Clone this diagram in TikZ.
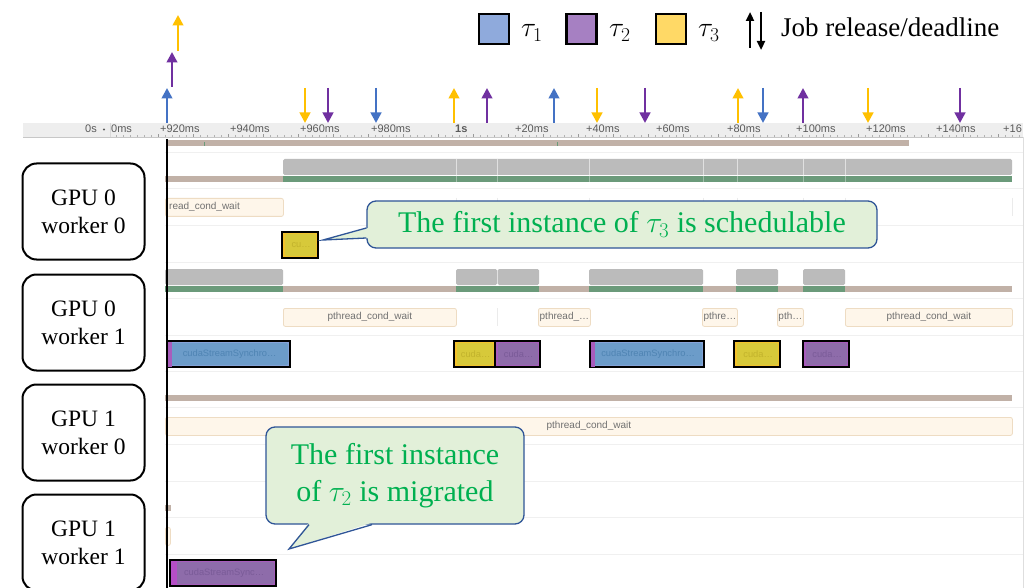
\RequirePackage{fix-cm}
\documentclass[tikz,border=0pt]{standalone}
\usepackage{fontspec}
\setmainfont{Liberation Serif}
\newfontfamily\trfont{Liberation Sans}
\usetikzlibrary{arrows.meta}

\definecolor{taublue}{HTML}{4472C4}
\definecolor{taupurple}{HTML}{7030A0}
\definecolor{tauyellow}{HTML}{FFC000}
\definecolor{legblue}{HTML}{8FAADC}
\definecolor{legpurple}{HTML}{A680C2}
\definecolor{legyellow}{HTML}{FFD966}
\definecolor{calloutfill}{HTML}{E2F0D9}
\definecolor{calloutedge}{HTML}{2F5597}
\definecolor{callouttext}{HTML}{00B050}
\definecolor{cpugray}{HTML}{BBBBBB}
\definecolor{rungreen}{HTML}{6B9A7A}
\definecolor{idlebrown}{HTML}{C1B1A7}
\definecolor{waitfill}{HTML}{FEF6EA}
\definecolor{waitedge}{HTML}{EEDCC3}
\definecolor{waittext}{HTML}{707070}
\definecolor{rowsepcol}{HTML}{F0F0F0}
\definecolor{rulerfill}{HTML}{EEEEEE}
\definecolor{rulertext}{HTML}{5A5A5A}
\definecolor{bluebody}{HTML}{6C9CC9}
\definecolor{blueedge}{HTML}{86A3DA}
\definecolor{bluetext}{HTML}{4F84B3}
\definecolor{yellowbody}{HTML}{D7C93A}
\definecolor{yellowedge}{HTML}{F4C22C}
\definecolor{yellowtext}{HTML}{C2B32C}
\definecolor{purplebody}{HTML}{8E6CAA}
\definecolor{purpleedge}{HTML}{A85CBC}
\definecolor{purpletext}{HTML}{7A5B98}

\tikzset{
  release/.style={line width=2.6pt, -{Triangle[width=10.5pt,length=10.5pt]}},
  legarrow/.style={black, line width=2.2pt, -{Triangle[width=8pt,length=9pt]}},
  legbox/.style={draw=black, line width=2.6pt, minimum size=30pt, inner sep=0pt},
  worker/.style={draw=black, line width=2pt, rounded corners=14pt,
    minimum width=122pt, minimum height=96pt, align=center, inner sep=0pt,
    font=\fontsize{23.5}{28}\selectfont},
  callout/.style={draw=calloutedge, line width=1.3pt, fill=calloutfill,
    rounded corners=9pt, text=callouttext, inner sep=0pt, align=center},
  rlabel/.style={font=\trfont\fontsize{11}{11}\selectfont, text=rulertext, inner sep=0pt, anchor=base west},
  rowsep/.style={draw=rowsepcol, line width=0.8pt},
  waitbox/.style={draw=waitedge, fill=waitfill, rounded corners=2pt, line width=0.8pt,
    inner sep=0pt, minimum height=18pt, anchor=north west},
  waitlabel/.style={font=\trfont\fontsize{10}{10}\selectfont, text=waittext, inner sep=0pt},
  cudabox/.style={draw=black, line width=2.2pt, minimum height=26pt, inner sep=0pt, anchor=north west},
  cudalabel/.style={font=\trfont\fontsize{9.3}{9.3}\selectfont, inner sep=0pt},
  faint/.style={draw=black!8, line width=0.6pt},
}

% pthread_cond_wait slice: name, x, top, width, label
\newcommand\waitslice[5]{%
  \node[waitbox, minimum width=#4pt] (#1) at (#2,#3) {};
  \node[waitlabel] (#1-l) at (#1.center) {#5};}

% CUDA call slice: name, x, top, width, kind (blue/yellow/purple), label
\newcommand\cudaslice[6]{%
  \node[cudabox, fill=#5edge, minimum width=#4pt] (#1) at (#2,#3) {};
  \fill[#5body, rounded corners=1.5pt] ([xshift=4pt,yshift=-3pt]#1.north west)
    rectangle ([xshift=-3pt,yshift=3pt]#1.south east);
  \node[cudalabel, text=#5text] (#1-l) at ([xshift=1pt]#1.center) {#6};}

% purple sliver at the start of a synchronisation slice
\newcommand\sliver[1]{%
  \fill[purpleedge] ([xshift=1.5pt,yshift=-1.5pt]#1.north west)
    rectangle ([xshift=6pt,yshift=1.5pt]#1.south west);}

\begin{document}
\begin{tikzpicture}[x=1pt, y=-1pt]
\clip (0,0) rectangle (1036,588);
\fill[white] (0,0) rectangle (1036,588);

% ---------- legend ----------
\node[legbox, fill=legblue] (lb1) at (494,29) {};
\node[anchor=base west, inner sep=0pt, font=\fontsize{28}{28}\selectfont] (lt1) at (521,37) {$\tau_1$};
\node[legbox, fill=legpurple] (lb2) at (581.5,29) {};
\node[anchor=base west, inner sep=0pt, font=\fontsize{28}{28}\selectfont] (lt2) at (609,37) {$\tau_2$};
\node[legbox, fill=legyellow] (lb3) at (671,29) {};
\node[anchor=base west, inner sep=0pt, font=\fontsize{28}{28}\selectfont] (lt3) at (698,37) {$\tau_3$};
\draw[legarrow] (750,48) -- (750,12);
\draw[legarrow] (761,12) -- (761,50);
\node[anchor=base west, inner sep=0pt, font=\fontsize{27}{27}\selectfont] (legtext) at (781,37) {Job release/deadline};

% ---------- time ruler ----------
\begin{scope}
  \clip (23,118) rectangle (1023,140);
  \fill[rulerfill] (23,123) rectangle (1023,137);
  \draw[black!22, line width=0.8pt] (23,137) -- (1023,137);
  \draw[black!15, line width=0.6pt] (110,123) -- (110,137);
  \foreach \xx in {116,123,...,1020} \draw[black!30, line width=0.5pt] (\xx,137) -- (\xx,135.5);
  \foreach \xx in {158,193,...,1020} \draw[black!40, line width=0.5pt] (\xx,137) -- (\xx,134);
  \node[rlabel] (r0s) at (85,133) {0s};
  \fill[rulertext] (104,129.5) circle (1.2);
  \node[rlabel] (r0) at (111,133) {0ms};
  \node[rlabel] (r920) at (160,133) {+920ms};
  \node[rlabel] (r940) at (230,133) {+940ms};
  \node[rlabel] (r960) at (300,133) {+960ms};
  \node[rlabel] (r980) at (371,133) {+980ms};
  \node[rlabel, font=\trfont\bfseries\fontsize{11}{11}\selectfont] (r1s) at (455,133) {1s};
  \node[rlabel] (r20) at (515,133) {+20ms};
  \node[rlabel] (r40) at (586,133) {+40ms};
  \node[rlabel] (r60) at (656,133) {+60ms};
  \node[rlabel] (r80) at (727,133) {+80ms};
  \node[rlabel] (r100) at (796,133) {+100ms};
  \node[rlabel] (r120) at (866,133) {+120ms};
  \node[rlabel] (r140) at (936,133) {+140ms};
  \node[rlabel] (r160) at (1003,133) {+16};
\end{scope}

% ---------- job releases (up) and deadlines (down) ----------
\foreach \xx/\cc in {167/taublue, 454/tauyellow, 487/taupurple, 554/taublue, 738/tauyellow, 803/taupurple}
  \draw[release, \cc] (\xx,123) -- (\xx,88);
\draw[release, taupurple] (172,87) -- (172,52);
\draw[release, tauyellow] (178,51) -- (178,15);
\foreach \xx/\cc in {305/tauyellow, 328/taupurple, 376/taublue, 597/tauyellow, 645/taupurple, 763/taublue, 868/tauyellow, 960/taupurple}
  \draw[release, \cc] (\xx,88) -- (\xx,123);

% ---------- trace panel ----------
\draw[black!13, line width=0.8pt] (1023,137) -- (1023,588);
\foreach \yy in {152,188,225,262,298,335,371,407,444,481,517,554}
  \draw[rowsep] (165,\yy) -- (1023,\yy);

% process state
\fill[idlebrown] (167,140) rectangle (909,146);
\fill[rungreen] (203.5,142.5) rectangle (204.5,146);
\fill[rungreen] (556.5,142.5) rectangle (557.5,146);

% GPU 0 worker 0
\fill[idlebrown] (165,176) rectangle (283,182);
\fill[rungreen] (283,176) rectangle (1012,182);
\fill[cpugray, rounded corners=1.5pt] (283,159) rectangle (1012,175);
\foreach \xx in {456,497,589,703,737,803,845} {
  \draw[white!55!cpugray, line width=0.6pt] (\xx,159) -- (\xx,175);
  \draw[white!35!rungreen, line width=0.6pt] (\xx,176) -- (\xx,182);
  \draw[faint] (\xx,198) -- (\xx,216);
}
\draw[faint] (1012,198) -- (1012,216);
\node[waitbox, minimum width=118pt] (w00wait) at (165,198) {};
\node[waitlabel, anchor=west] (w00wait-l) at (169,207) {read\_cond\_wait};
\cudaslice{w00c1}{281}{231}{36}{yellow}{cu…}

% GPU 0 worker 1
\fill[idlebrown] (165,286) rectangle (1012,292);
\foreach \a/\b in {165/283, 456/539, 589/703, 736/778, 803/845}
  \fill[rungreen] (\a,286) rectangle (\b,292);
\foreach \a/\b in {165/283, 456/497, 497.6/539, 589/703, 736/778, 803/845}
  \fill[cpugray, rounded corners=1.5pt] (\a,269) rectangle (\b,285);
\draw[faint] (497,308) -- (497,326);
\waitslice{w01wa}{283}{308}{173}{pthread\_cond\_wait}
\waitslice{w01wb}{538}{308}{52}{pthread\_…}
\waitslice{w01wc}{702}{308}{35}{pthre…}
\waitslice{w01wd}{777}{308}{26}{pth…}
\waitslice{w01we}{845}{308}{167}{pthread\_cond\_wait}
\cudaslice{w01c1}{166}{340}{123}{blue}{cudaStreamSynchro…}
\sliver{w01c1}
\cudaslice{w01c2}{453}{340}{41}{yellow}{cuda…}
\cudaslice{w01c3}{494}{340}{45}{purple}{cuda…}
\cudaslice{w01c4}{589}{340}{114}{blue}{cudaStreamSynchro…}
\sliver{w01c4}
\cudaslice{w01c5}{733}{340}{46}{yellow}{cuda…}
\cudaslice{w01c6}{802}{340}{46}{purple}{cuda…}

% GPU 1 worker 0
\fill[idlebrown] (165,395) rectangle (1012,401);
\waitslice{w10wa}{165}{417}{847}{pthread\_cond\_wait}

% GPU 1 worker 1
\fill[idlebrown] (165,505) rectangle (171,511);
\node[waitbox, minimum width=5pt] (w11wa) at (165,527) {};
\cudaslice{w11c1}{169}{559}{106}{purple}{cudaStreamSync…}
\fill[purpleedge!85!magenta] ([xshift=2pt,yshift=-2pt]w11c1.north west)
  rectangle ([xshift=8pt,yshift=2pt]w11c1.south west);

% current-time marker
\draw[black, line width=2.5pt] (167,139) -- (167,588);

% ---------- worker labels ----------
\node[worker] (g0w0) at (83.5,211.5) {GPU 0\\worker 0};
\node[worker] (g0w1) at (83.5,322.5) {GPU 0\\worker 1};
\node[worker] (g1w0) at (83.5,432.5) {GPU 1\\worker 0};
\node[worker] (g1w1) at (83.5,542.5) {GPU 1\\worker 1};

% ---------- callouts ----------
\node[callout, minimum width=510pt, minimum height=47pt, font=\fontsize{30}{36}\selectfont]
  (c1) at (622,224.5) {The first instance of $\tau_3$ is schedulable};
\coordinate (c1tip) at (323,240);
\fill[calloutfill] ([xshift=2pt,yshift=-3.5pt]c1.west) -- (c1tip) -- ([xshift=2pt,yshift=-13.5pt]c1.west) -- cycle;
\draw[calloutedge, line width=1.3pt] ([yshift=-3.5pt]c1.west) -- (c1tip) -- ([yshift=-13.5pt]c1.west);

\node[callout, minimum width=258pt, minimum height=97pt, font=\fontsize{30}{37}\selectfont]
  (c2) at (395,475.5) {The first instance\\of $\tau_2$ is migrated};
\coordinate (c2tip) at (289,549);
\fill[calloutfill] ([xshift=-86pt,yshift=2pt]c2.south) -- (c2tip) -- ([xshift=-23pt,yshift=2pt]c2.south) -- cycle;
\draw[calloutedge, line width=1.3pt] ([xshift=-86pt]c2.south) -- (c2tip) -- ([xshift=-23pt]c2.south);
\end{tikzpicture}
\end{document}
